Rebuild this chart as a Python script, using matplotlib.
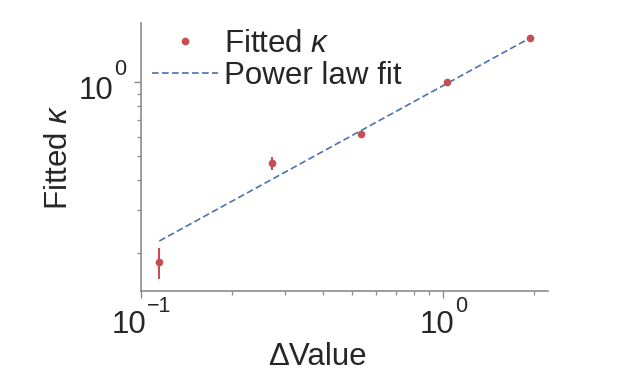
import matplotlib
matplotlib.use("Agg")
import matplotlib.pyplot as plt
import numpy as np
from matplotlib.ticker import NullFormatter, FixedLocator
from matplotlib.lines import Line2D

plt.rcParams['font.family'] = ['Liberation Sans', 'DejaVu Sans']
plt.rcParams['mathtext.fontset'] = 'custom'
plt.rcParams['mathtext.rm'] = 'Liberation Sans'
plt.rcParams['mathtext.it'] = 'Liberation Sans:italic'

# Data
delta_values = [0.115, 0.272, 0.537, 1.036, 1.94]
fitted_kappa = [0.184, 0.466, 0.614, 1.006, 1.52]
kappa_err_low = [0.027, 0.026, 0.0, 0.0, 0.0]
kappa_err_high = [0.026, 0.030, 0.0, 0.0, 0.0]
fit_amplitude = 0.968
fit_exponent = 0.676
x_major_ticks = [0.1, 1.0]
x_major_exps = ['\u22121', '0']
y_major_ticks = [1.0]
y_major_exps = ['0']

red = '#c44e52'
blue = '#4c72b0'
text_col = '#262626'
spine_col = '#8c8c8c'
fs = 22.5
fs_sup = 15.5

fig = plt.figure(figsize=(6.17, 3.82), dpi=100)
ax = fig.add_axes([0.2285, 0.238, 0.6595, 0.702])

x = np.array(delta_values)
fit_y = fit_amplitude * x ** fit_exponent
ax.plot(x, fit_y, linestyle='--', color=blue, lw=1.2, dashes=(4, 2), zorder=2)
ax.errorbar(x, fitted_kappa, yerr=[kappa_err_low, kappa_err_high], fmt='o', color=red,
            ms=4.5, elinewidth=1.5, capsize=0, zorder=3)

ax.set_xscale('log')
ax.set_yscale('log')
ax.set_xlim(0.1, 2.23)
ax.set_ylim(0.14, 1.75)

ax.xaxis.set_major_locator(FixedLocator(x_major_ticks))
ax.yaxis.set_major_locator(FixedLocator(y_major_ticks))
for axis in (ax.xaxis, ax.yaxis):
    axis.set_major_formatter(NullFormatter())
    axis.set_minor_formatter(NullFormatter())

for s in ['top', 'right']:
    ax.spines[s].set_visible(False)
for s in ['left', 'bottom']:
    ax.spines[s].set_color(spine_col)
    ax.spines[s].set_linewidth(1.2)

ax.tick_params(which='major', length=5, width=1, color=spine_col)
ax.tick_params(which='minor', length=3, width=0.9, color=spine_col)

# custom power-of-ten tick labels (x axis, centered on ticks)
x_pairs = []
for v, e in zip(x_major_ticks, x_major_exps):
    t10 = ax.annotate('10', xy=(v, 0), xycoords=('data', 'axes fraction'),
                      xytext=(0, -42), textcoords='offset pixels',
                      ha='left', va='baseline', fontsize=fs, color=text_col)
    te = ax.annotate(e, xy=(v, 0), xycoords=('data', 'axes fraction'),
                     xytext=(0, -20.5), textcoords='offset pixels',
                     ha='left', va='baseline', fontsize=fs_sup, color=text_col)
    x_pairs.append((t10, te))
for v, e in zip(y_major_ticks, y_major_exps):
    ax.annotate('10', xy=(0, v), xycoords=('axes fraction', 'data'),
                xytext=(-28, -17), textcoords='offset pixels',
                ha='right', va='baseline', fontsize=fs, color=text_col)
    ax.annotate(e, xy=(0, v), xycoords=('axes fraction', 'data'),
                xytext=(-26.5, 7), textcoords='offset pixels',
                ha='left', va='baseline', fontsize=fs_sup, color=text_col)

fig.canvas.draw()
r = fig.canvas.get_renderer()
for t10, te in x_pairs:
    w10 = t10.get_window_extent(r).width
    we = te.get_window_extent(r).width
    start = -(w10 + we) / 2
    t10.set_position((start, -42))
    te.set_position((start + w10 + 1, -20.5))

ax.set_xlabel('\u0394Value', fontsize=fs, color=text_col)
ax.xaxis.set_label_coords(0.434, -0.19)
ax.set_ylabel(r'Fitted $\kappa$', fontsize=fs, color=text_col)
ax.yaxis.set_label_coords(-0.165, 0.5)

h_pts = Line2D([], [], linestyle='none', marker='o', ms=4.5, color=red)
h_fit = Line2D([], [], linestyle='--', dashes=(4, 2), lw=1.2, color=blue)
ax.legend([h_pts, h_fit], [r'Fitted $\kappa$', 'Power law fit'], loc='upper left',
          bbox_to_anchor=(0.027, 0.978), borderaxespad=0, borderpad=0,
          frameon=False, fontsize=fs, handlelength=2.1, handletextpad=0.22,
          labelspacing=0.065, labelcolor=text_col)

fig.savefig('out.png', dpi=100)
